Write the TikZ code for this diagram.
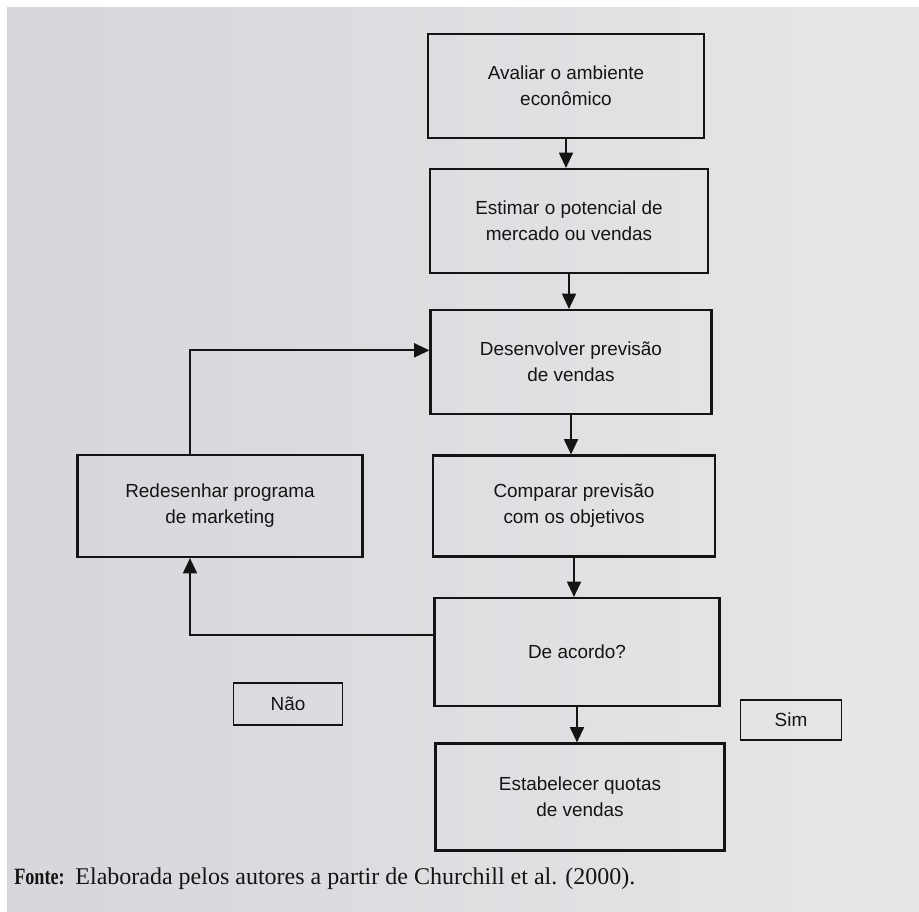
\documentclass[tikz,border=0pt]{standalone}
\usepackage{fontspec}
\setmainfont{Liberation Serif}
\newfontfamily\boxfont{Liberation Sans}
\usetikzlibrary{arrows.meta,calc}
\definecolor{paperL}{RGB}{214,214,219}
\definecolor{paperR}{RGB}{231,231,233}
\definecolor{ink}{RGB}{20,20,20}
\tikzset{
  flowbox/.style={draw=ink, line width=1.6pt, align=center, inner sep=2pt,
    font=\boxfont\fontsize{14.2pt}{19.5pt}\selectfont, text=ink},
  tagbox/.style={draw=ink, line width=1.3pt, align=center, inner sep=2pt,
    font=\boxfont\fontsize{14.2pt}{19.5pt}\selectfont, text=ink},
  flow/.style={draw=ink, line width=1.5pt, -{Triangle[length=11.5pt,width=10.5pt]}}
}
\begin{document}
\begin{tikzpicture}[x=0.75pt,y=-0.75pt]
\useasboundingbox (0,0) rectangle (919,911);
\fill[white] (0,0) rectangle (919,911);
\shade[left color=paperL, right color=paperR] (7,7) rectangle (919,911);

\node[flowbox, minimum width={276*0.75pt}, minimum height={104*0.75pt}] (b1) at (566,86) {Avaliar o ambiente\\econômico};
\node[flowbox, minimum width={278*0.75pt}, minimum height={104*0.75pt}] (b2) at (569,221) {Estimar o potencial de\\mercado ou vendas};
\node[flowbox, minimum width={281*0.75pt}, minimum height={104*0.75pt}] (b3) at (571,362) {Desenvolver previsão\\de vendas};
\node[flowbox, minimum width={282*0.75pt}, minimum height={101*0.75pt}] (b4) at (574,506) {Comparar previsão\\com os objetivos};
\node[flowbox, minimum width={285*0.75pt}, minimum height={108*0.75pt}] (b5) at (577,652) {De acordo?};
\node[flowbox, minimum width={289*0.75pt}, minimum height={107*0.75pt}] (b6) at (580,797) {Estabelecer quotas\\de vendas};
\node[flowbox, minimum width={285*0.75pt}, minimum height={102*0.75pt}] (r) at (220,506) {Redesenhar programa\\de marketing};
\node[tagbox, minimum width={109*0.75pt}, minimum height={42*0.75pt}] (nao) at (288,704) {Não};
\node[tagbox, minimum width={101*0.75pt}, minimum height={40*0.75pt}] (sim) at (791,720) {Sim};

\coordinate (rx) at (190,0);
\coordinate (pin) at ($(b3.north west)!0.39!(b3.south west)$);
\coordinate (pout) at ($(b5.north west)!0.35!(b5.south west)$);

\draw[flow] (b1.south) -- (b1.south |- b2.north);
\draw[flow] (b2.south) -- (b2.south |- b3.north);
\draw[flow] (b3.south) -- (b3.south |- b4.north);
\draw[flow] (b4.south) -- (b4.south |- b5.north);
\draw[flow] (b5.south) -- (b5.south |- b6.north);
\draw[flow] (pout) -| (r.south -| rx);
\draw[flow] (r.north -| rx) |- (pin);

\node[anchor=base west, inner sep=0pt, text=ink] (src) at (14,884)
  {\scalebox{0.78}[1]{\bfseries\fontsize{17.5pt}{20pt}\selectfont Fonte:}\hspace{8pt}{\fontsize{18pt}{20pt}\selectfont Elaborada pelos autores a partir de Churchill et al. (2000).}};
\end{tikzpicture}
\end{document}
